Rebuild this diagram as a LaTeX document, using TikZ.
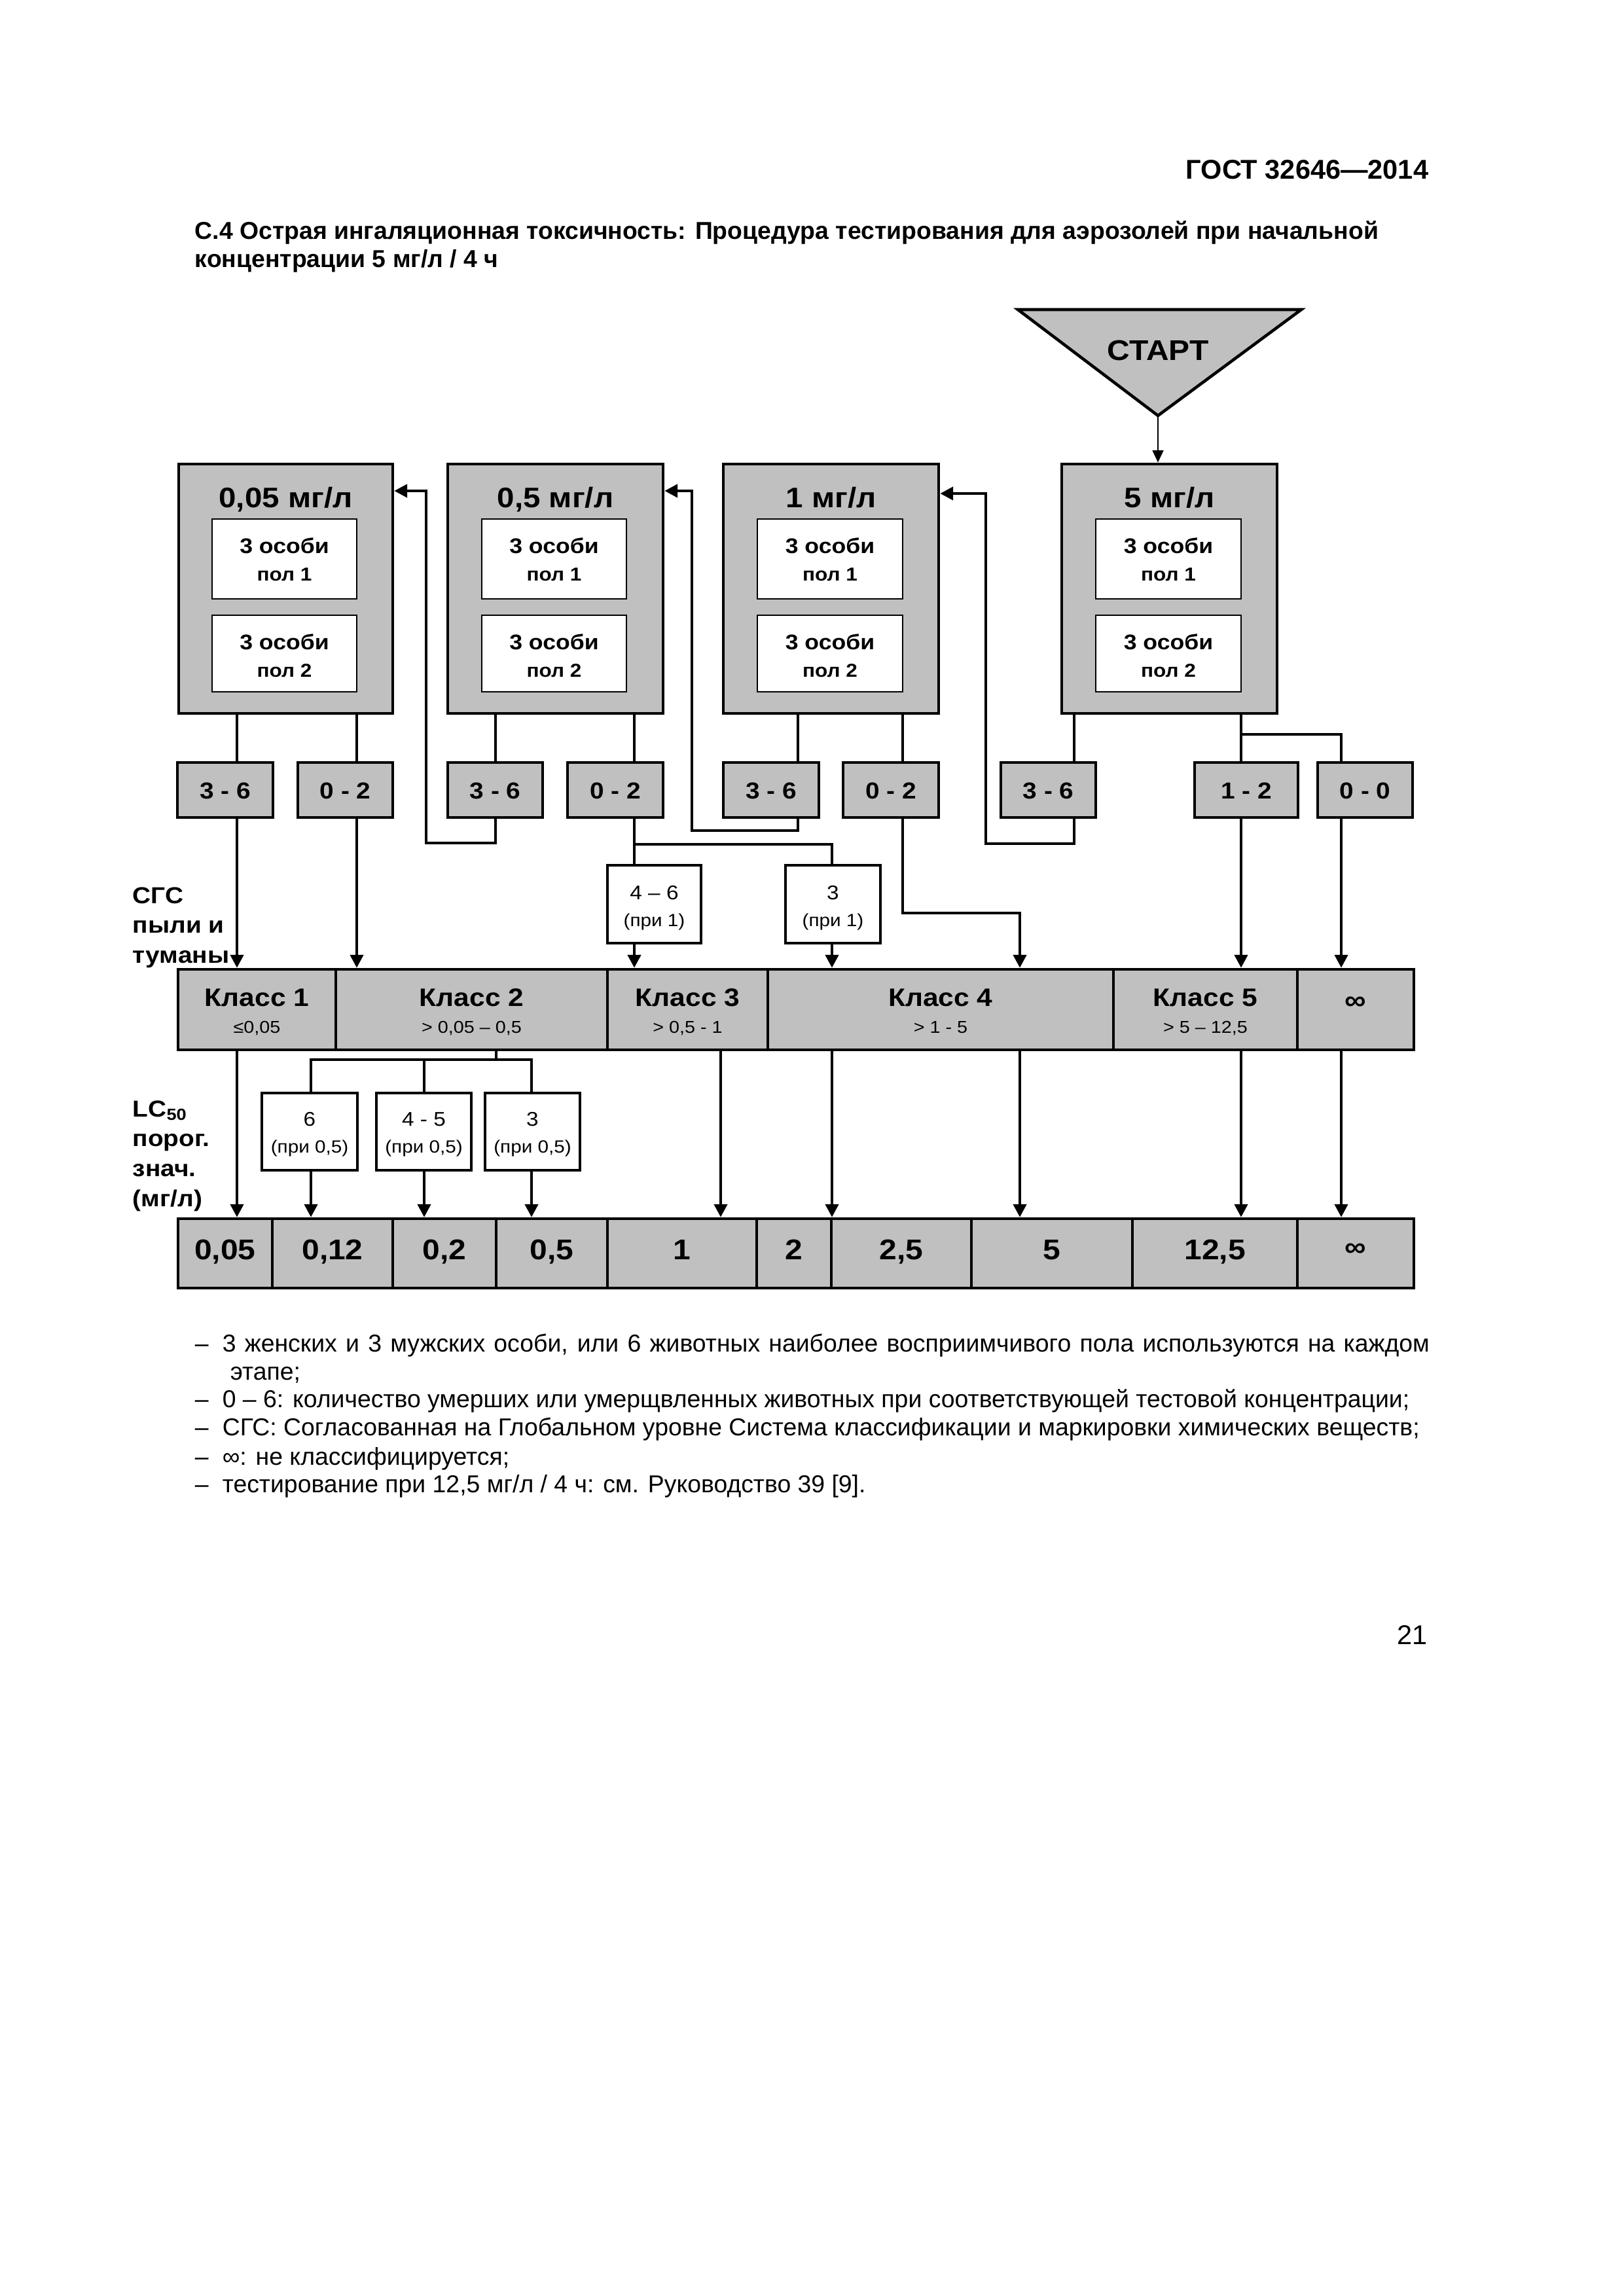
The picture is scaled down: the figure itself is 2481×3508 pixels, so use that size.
\documentclass[tikz,border=0pt]{standalone}
\usepackage{fontspec}
\setmainfont{Liberation Sans}
\newfontfamily\dfont[FakeStretch=1.1]{Liberation Sans}
\usetikzlibrary{arrows.meta,fit}
\definecolor{bgray}{RGB}{192,192,192}
\newdimen\pxu \pxu=0.08466mm
\begin{document}
\begin{tikzpicture}[x=0.08466mm,y=-0.08466mm,
  bigbox/.style={draw, fill=bgray, line width=1.1pt, inner sep=0pt},
  inbox/.style={draw, fill=white, line width=0.6pt, inner sep=0pt},
  smallbox/.style={draw, fill=bgray, line width=1.1pt, inner sep=0pt},
  wbox/.style={draw, fill=white, line width=0.9pt, inner sep=0pt},
  cell/.style={draw, fill=bgray, line width=1.1pt, inner sep=0pt},
  conn/.style={line width=1.1pt},
  arr/.style={conn, -{Triangle[length=4.8pt,width=4.8pt]}},
  arrthin/.style={line width=0.7pt, -{Triangle[length=4.5pt,width=4pt]}},
  bt/.style={inner sep=0pt, anchor=base},
  ttl/.style={bt, font=\dfont\bfseries\fontsize{10.4}{12}\selectfont},
  inbig/.style={bt, font=\dfont\bfseries\fontsize{7.8}{9}\selectfont},
  insm/.style={bt, font=\dfont\bfseries\fontsize{6.9}{8}\selectfont},
  smt/.style={bt, font=\dfont\bfseries\fontsize{8.5}{10}\selectfont},
  starttxt/.style={bt, font=\dfont\bfseries\fontsize{10.5}{12}\selectfont},
  wbig/.style={bt, font=\dfont\fontsize{7.3}{9}\selectfont},
  wsm/.style={bt, font=\dfont\fontsize{6.5}{8}\selectfont},
  ktitle/.style={bt, font=\dfont\bfseries\fontsize{9.3}{11}\selectfont},
  ksub/.style={bt, font=\dfont\fontsize{6.3}{8}\selectfont},
  val/.style={bt, font=\dfont\bfseries\fontsize{10.5}{12}\selectfont},
  inf/.style={inner sep=0pt, font=\dfont\bfseries\fontsize{10}{12}\selectfont},
  side/.style={inner sep=0pt, anchor=west, align=left, font=\dfont\bfseries\fontsize{8.5}{11}\selectfont},
  leg/.style={inner sep=0pt, anchor=base west, font=\fontsize{9}{10.4}\selectfont},
]
\fill[white] (0,0) rectangle (2481,3508);
\useasboundingbox (0,0) rectangle (2481,3508);

% header and caption
\node[inner sep=0pt, anchor=base east, font=\bfseries\fontsize{10}{12}\selectfont] (hdr) at (2183,273) {ГОСТ 32646—2014};
\node[inner sep=0pt, anchor=base west, font=\bfseries\fontsize{9}{10.4}\selectfont] (cap1) at (297,365) {С.4 Острая ингаляционная токсичность: Процедура тестирования для аэрозолей при начальной};
\node[inner sep=0pt, anchor=base west, font=\bfseries\fontsize{9}{10.4}\selectfont] (cap2) at (297,408) {концентрации 5 мг/л / 4 ч};

% START triangle
\draw[line width=1.1pt, fill=bgray, line join=miter] (1555,473) -- (1988,473) -- (1769,635) -- cycle;
\coordinate (Sapex) at (1769,635);
\node[starttxt] (S) at (1769,550) {СТАРТ};

% big boxes
\node[bigbox, fit={(273,709)(600,1090)}] (A) {};
\node[bigbox, fit={(684,709)(1013,1090)}] (B) {};
\node[bigbox, fit={(1105,709)(1434,1090)}] (C) {};
\node[bigbox, fit={(1622,709)(1951,1090)}] (D) {};
\node[ttl] (At) at (A.north |- 0,775) {0,05 мг/л};
\node[ttl] (Bt) at (B.north |- 0,775) {0,5 мг/л};
\node[ttl] (Ct) at (C.north |- 0,775) {1 мг/л};
\node[ttl] (Dt) at (D.north |- 0,775) {5 мг/л};

% inner boxes
\node[inbox, fit={(324,793)(545,915)}] (A1) {};
\node[inbox, fit={(324,940)(545,1057)}] (A2) {};
\node[inbox, fit={(736,793)(957,915)}] (B1) {};
\node[inbox, fit={(736,940)(957,1057)}] (B2) {};
\node[inbox, fit={(1157,793)(1379,915)}] (C1) {};
\node[inbox, fit={(1157,940)(1379,1057)}] (C2) {};
\node[inbox, fit={(1674,793)(1896,915)}] (D1) {};
\node[inbox, fit={(1674,940)(1896,1057)}] (D2) {};
\foreach \n in {A,B,C,D}{
  \node[inbig] (\n1a) at (\n1.center |- 0,845) {3 особи};
  \node[insm]  (\n1b) at (\n1.center |- 0,887) {пол 1};
  \node[inbig] (\n2a) at (\n2.center |- 0,992) {3 особи};
  \node[insm]  (\n2b) at (\n2.center |- 0,1034) {пол 2};
}

% small boxes
\node[smallbox, fit={(271,1165)(417,1249)}] (A36) {};
\node[smallbox, fit={(455,1165)(600,1249)}] (A02) {};
\node[smallbox, fit={(684,1165)(829,1249)}] (B36) {};
\node[smallbox, fit={(867,1165)(1013,1249)}] (B02) {};
\node[smallbox, fit={(1105,1165)(1251,1249)}] (C36) {};
\node[smallbox, fit={(1288,1165)(1434,1249)}] (C02) {};
\node[smallbox, fit={(1529,1165)(1674,1249)}] (D36) {};
\node[smallbox, fit={(1825,1165)(1983,1249)}] (D12) {};
\node[smallbox, fit={(2013,1165)(2158,1249)}] (D00) {};
\node[smt] at (A36.center |- 0,1220) {3 - 6};
\node[smt] at (A02.center |- 0,1220) {0 - 2};
\node[smt] at (B36.center |- 0,1220) {3 - 6};
\node[smt] at (B02.center |- 0,1220) {0 - 2};
\node[smt] at (C36.center |- 0,1220) {3 - 6};
\node[smt] at (C02.center |- 0,1220) {0 - 2};
\node[smt] at (D36.center |- 0,1220) {3 - 6};
\node[smt] at (D12.center |- 0,1220) {1 - 2};
\node[smt] at (D00.center |- 0,1220) {0 - 0};

% white boxes (при 1)
\node[wbox, fit={(928,1322)(1071,1441)}] (W46) {};
\node[wbox, fit={(1200,1322)(1345,1441)}] (W3) {};
\node[wbig] at (W46.center |- 0,1374) {4 – 6};
\node[wsm]  at (W46.center |- 0,1415) {(при 1)};
\node[wbig] at (W3.center |- 0,1374) {3};
\node[wsm]  at (W3.center |- 0,1415) {(при 1)};

% class row
\node[cell, fit={(272,1481)(513,1604)}] (K1) {};
\node[cell, fit={(513,1481)(928,1604)}] (K2) {};
\node[cell, fit={(928,1481)(1173,1604)}] (K3) {};
\node[cell, fit={(1173,1481)(1701,1604)}] (K4) {};
\node[cell, fit={(1701,1481)(1982,1604)}] (K5) {};
\node[cell, fit={(1982,1481)(2160,1604)}] (K6) {};
\node[ktitle] at (K1.center |- 0,1537) {Класс 1};
\node[ksub]   at (K1.center |- 0,1578) {≤0,05};
\node[ktitle] at (K2.center |- 0,1537) {Класс 2};
\node[ksub]   at (K2.center |- 0,1578) {> 0,05 – 0,5};
\node[ktitle] at (K3.center |- 0,1537) {Класс 3};
\node[ksub]   at (K3.center |- 0,1578) {> 0,5 - 1};
\node[ktitle] at (K4.center |- 0,1537) {Класс 4};
\node[ksub]   at (K4.center |- 0,1578) {> 1 - 5};
\node[ktitle] at (K5.center |- 0,1537) {Класс 5};
\node[ksub]   at (K5.center |- 0,1578) {> 5 – 12,5};
\node[inf] at (K6.center |- 0,1533) {∞};

% white boxes (при 0,5)
\node[wbox, fit={(400,1670)(546,1788)}] (W6) {};
\node[wbox, fit={(575,1670)(720,1788)}] (W45) {};
\node[wbox, fit={(741,1670)(886,1788)}] (W3b) {};
\node[wbig] at (W6.center |- 0,1720) {6};
\node[wsm]  at (W6.center |- 0,1761) {(при 0,5)};
\node[wbig] at (W45.center |- 0,1720) {4 - 5};
\node[wsm]  at (W45.center |- 0,1761) {(при 0,5)};
\node[wbig] at (W3b.center |- 0,1720) {3};
\node[wsm]  at (W3b.center |- 0,1761) {(при 0,5)};

% value row
\node[cell, fit={(272,1862)(416,1968)}] (V1) {};
\node[cell, fit={(416,1862)(600,1968)}] (V2) {};
\node[cell, fit={(600,1862)(758,1968)}] (V3) {};
\node[cell, fit={(758,1862)(928,1968)}] (V4) {};
\node[cell, fit={(928,1862)(1156,1968)}] (V5) {};
\node[cell, fit={(1156,1862)(1270,1968)}] (V6) {};
\node[cell, fit={(1270,1862)(1484,1968)}] (V7) {};
\node[cell, fit={(1484,1862)(1730,1968)}] (V8) {};
\node[cell, fit={(1730,1862)(1982,1968)}] (V9) {};
\node[cell, fit={(1982,1862)(2160,1968)}] (V10) {};
\node[val] at (V1.center |- 0,1924) {0,05};
\node[val] at (V2.center |- 0,1924) {0,12};
\node[val] at (V3.center |- 0,1924) {0,2};
\node[val] at (V4.center |- 0,1924) {0,5};
\node[val] at (V5.center |- 0,1924) {1};
\node[val] at (V6.center |- 0,1924) {2};
\node[val] at (V7.center |- 0,1924) {2,5};
\node[val] at (V8.center |- 0,1924) {5};
\node[val] at (V9.center |- 0,1924) {12,5};
\node[inf] at (V10.center |- 0,1910) {∞};

% side labels
\node[side] (sgs) at (202,1417) {СГС\\пыли и\\туманы};
\node[side] (lc) at (202,1766) {LC\textsubscript{50}\\порог.\\знач.\\(мг/л)};

% connectors: start
\draw[arrthin] (Sapex) -- (Sapex |- D.north);
% big -> small
\draw[conn] (362,0 |- A.south) -- (362,0 |- A36.north);
\draw[conn] (545,0 |- A.south) -- (545,0 |- A02.north);
\draw[conn] (757,0 |- B.south) -- (757,0 |- B36.north);
\draw[conn] (969,0 |- B.south) -- (969,0 |- B02.north);
\draw[conn] (1219,0 |- C.south) -- (1219,0 |- C36.north);
\draw[conn] (1379,0 |- C.south) -- (1379,0 |- C02.north);
\draw[conn] (1641,0 |- D.south) -- (1641,0 |- D36.north);
\draw[conn] (1896,0 |- D.south) -- (1896,0 |- D12.north);
\draw[conn] (1896,1122) -- (2049,1122) -- (2049,0 |- D00.north);
% returns
\draw[arr] (757,0 |- B36.south) -- (757,1288) -- (651,1288) -- (651,750) -- (A.east |- 0,750);
\draw[arr] (1219,0 |- C36.south) -- (1219,1269) -- (1057,1269) -- (1057,750) -- (B.east |- 0,750);
\draw[arr] (1641,0 |- D36.south) -- (1641,1289) -- (1506,1289) -- (1506,754) -- (C.east |- 0,754);
% small -> class row
\draw[arr] (362,0 |- A36.south) -- (362,0 |- K1.north);
\draw[arr] (545,0 |- A02.south) -- (545,0 |- K2.north);
\draw[conn] (969,0 |- B02.south) -- (969,1290) -- (1271,1290) -- (1271,0 |- W3.north);
\draw[conn] (969,1290) -- (969,0 |- W46.north);
\draw[arr] (969,0 |- W46.south) -- (969,0 |- K3.north);
\draw[arr] (1271,0 |- W3.south) -- (1271,0 |- K4.north);
\draw[arr] (1379,0 |- C02.south) -- (1379,1395) -- (1558,1395) -- (1558,0 |- K4.north);
\draw[arr] (1896,0 |- D12.south) -- (1896,0 |- K5.north);
\draw[arr] (2049,0 |- D00.south) -- (2049,0 |- K6.north);
% class row -> values
\draw[arr] (362,0 |- K1.south) -- (362,0 |- V1.north);
\draw[conn] (758,0 |- K2.south) -- (758,1619);
\draw[conn] (475,0 |- W6.north) -- (475,1619) -- (812,1619) -- (812,0 |- W3b.north);
\draw[conn] (648,1619) -- (648,0 |- W45.north);
\draw[arr] (475,0 |- W6.south) -- (475,0 |- V2.north);
\draw[arr] (648,0 |- W45.south) -- (648,0 |- V3.north);
\draw[arr] (812,0 |- W3b.south) -- (812,0 |- V4.north);
\draw[arr] (1101,0 |- K3.south) -- (1101,0 |- V5.north);
\draw[arr] (1271,0 |- K4.south) -- (1271,0 |- V7.north);
\draw[arr] (1558,0 |- K4.south) -- (1558,0 |- V8.north);
\draw[arr] (1896,0 |- K5.south) -- (1896,0 |- V9.north);
\draw[arr] (2049,0 |- K6.south) -- (2049,0 |- V10.north);

% legend
\node[leg] (d1) at (297,2065) {–};
\node[leg] (l1) at (339,2065) {\makebox[1844\pxu][s]{3 женских и 3 мужских особи, или 6 животных наиболее восприимчивого пола используются на каждом}};
\node[leg] (l1b) at (351,2108) {этапе;};
\node[leg] (d2) at (297,2150) {–};
\node[leg] (l2) at (339,2150) {0 – 6: количество умерших или умерщвленных животных при соответствующей тестовой концентрации;};
\node[leg] (d3) at (297,2193) {–};
\node[leg] (l3) at (339,2193) {СГС: Согласованная на Глобальном уровне Система классификации и маркировки химических веществ;};
\node[leg] (d4) at (297,2238) {–};
\node[leg] (l4) at (339,2238) {∞: не классифицируется;};
\node[leg] (d5) at (297,2280) {–};
\node[leg] (l5) at (339,2280) {тестирование при 12,5 мг/л / 4 ч: см. Руководство 39 [9].};

% page number
\node[inner sep=0pt, anchor=base east, font=\fontsize{10}{12}\selectfont] (pg) at (2181,2512) {21};
\end{tikzpicture}
\end{document}
